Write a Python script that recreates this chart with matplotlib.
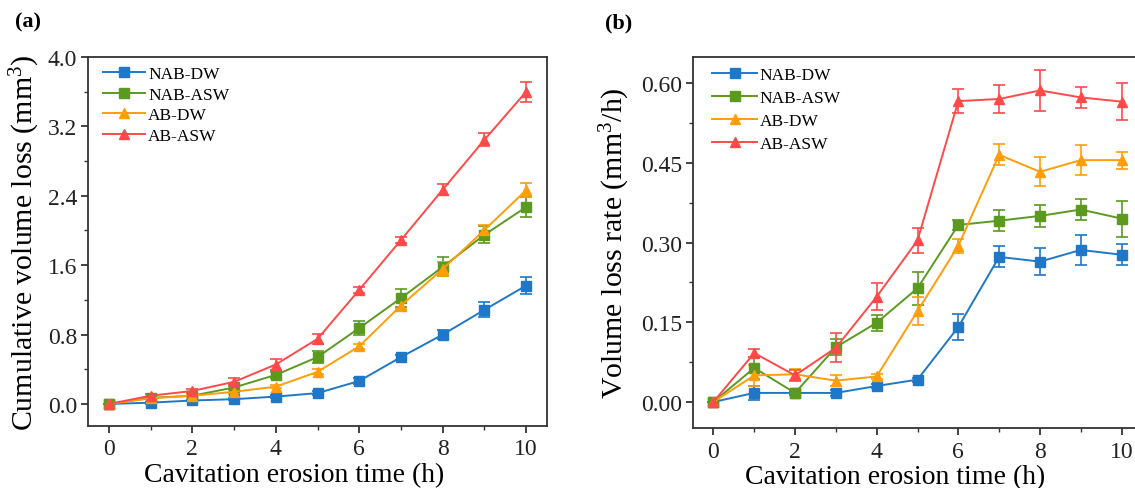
import matplotlib
matplotlib.use("Agg")
import matplotlib.pyplot as plt
from matplotlib.ticker import MultipleLocator, FormatStrFormatter
from matplotlib.lines import Line2D

plt.rcParams['font.family'] = ['Liberation Serif', 'DejaVu Serif']
plt.rcParams['mathtext.fontset'] = 'custom'
plt.rcParams['mathtext.rm'] = 'Liberation Serif'
plt.rcParams['mathtext.it'] = 'Liberation Serif:italic'

hours = [0, 1, 2, 3, 4, 5, 6, 7, 8, 9, 10]
series_names = ["NAB-DW", "NAB-ASW", "AB-DW", "AB-ASW"]
colors = ["#1f77c8", "#5b9a1f", "#ff9d0a", "#ff4a4a"]
markers = ["s", "s", "^", "^"]

# (a) Cumulative volume loss (mm^3)
cum_nab_dw = [0, 0.015, 0.04, 0.055, 0.085, 0.125, 0.265, 0.54, 0.80, 1.085, 1.365]
cum_nab_dw_err = [0, 0.01, 0.01, 0.01, 0.015, 0.02, 0.03, 0.03, 0.05, 0.085, 0.10]
cum_nab_asw = [0, 0.07, 0.095, 0.19, 0.335, 0.54, 0.875, 1.22, 1.58, 1.95, 2.27]
cum_nab_asw_err = [0, 0.01, 0.01, 0.02, 0.03, 0.07, 0.085, 0.10, 0.11, 0.10, 0.12]
cum_ab_dw = [0, 0.065, 0.095, 0.14, 0.20, 0.37, 0.665, 1.135, 1.555, 2.005, 2.465]
cum_ab_dw_err = [0, 0.01, 0.01, 0.02, 0.02, 0.03, 0.03, 0.04, 0.08, 0.06, 0.08]
cum_ab_asw = [0, 0.095, 0.15, 0.255, 0.455, 0.75, 1.315, 1.89, 2.47, 3.045, 3.60]
cum_ab_asw_err = [0, 0.02, 0.02, 0.04, 0.065, 0.06, 0.03, 0.03, 0.063, 0.076, 0.115]

# (b) Volume loss rate (mm^3/h)
rate_nab_dw = [0, 0.017, 0.017, 0.017, 0.030, 0.042, 0.141, 0.273, 0.264, 0.286, 0.277]
rate_nab_dw_err = [0, 0.0135, 0.004, 0.006, 0.004, 0.004, 0.024, 0.02, 0.026, 0.028, 0.02]
rate_nab_asw = [0, 0.064, 0.017, 0.103, 0.149, 0.214, 0.333, 0.341, 0.350, 0.362, 0.345]
rate_nab_asw_err = [0, 0.02, 0.004, 0.015, 0.015, 0.031, 0.01, 0.02, 0.02, 0.02, 0.034]
rate_ab_dw = [0, 0.050, 0.052, 0.040, 0.048, 0.171, 0.294, 0.465, 0.433, 0.455, 0.455]
rate_ab_dw_err = [0, 0.02, 0.01, 0.01, 0.005, 0.027, 0.013, 0.02, 0.027, 0.028, 0.016]
rate_ab_asw = [0, 0.092, 0.050, 0.102, 0.198, 0.304, 0.566, 0.570, 0.586, 0.573, 0.565]
rate_ab_asw_err = [0, 0.008, 0.01, 0.027, 0.025, 0.024, 0.023, 0.027, 0.038, 0.02, 0.035]

cum_data = [(cum_nab_dw, cum_nab_dw_err), (cum_nab_asw, cum_nab_asw_err),
            (cum_ab_dw, cum_ab_dw_err), (cum_ab_asw, cum_ab_asw_err)]
rate_data = [(rate_nab_dw, rate_nab_dw_err), (rate_nab_asw, rate_nab_asw_err),
             (rate_ab_dw, rate_ab_dw_err), (rate_ab_asw, rate_ab_asw_err)]

W, H = 1135, 489
fig = plt.figure(figsize=(W / 100, H / 100), dpi=100)

def px_axes(x0, x1, ytop, ybot):
    return fig.add_axes([x0 / W, 1 - ybot / H, (x1 - x0) / W, (ybot - ytop) / H])

axA = px_axes(88, 547, 58, 427)
axB = px_axes(693, 1142, 58, 429)

def msize(m):
    return 6.5 if m == "s" else 7.5

def draw(ax, data):
    for (vals, errs), name, c, m in zip(data, series_names, colors, markers):
        ax.errorbar(hours, vals, yerr=errs, color=c, marker=m,
                    markersize=msize(m), lw=1.4,
                    elinewidth=1.2, capsize=4, capthick=1.2)
    for s in ax.spines.values():
        s.set_linewidth(1.3)
        s.set_color("#333333")
    ax.tick_params(which="major", direction="out", length=5, width=1.2,
                   labelsize=17, colors="#222222")
    ax.tick_params(which="minor", direction="out", length=3, width=1.0, colors="#333333")
    ax.tick_params(axis="x", which="major", pad=4)
    ax.tick_params(axis="y", which="major", pad=3)
    ax.set_xlim(-0.5, 10.5)
    ax.xaxis.set_major_locator(MultipleLocator(2))
    ax.xaxis.set_minor_locator(MultipleLocator(1))
    ax.set_xlabel("Cavitation erosion time (h)", fontsize=20)

def handles():
    return [Line2D([], [], color=c, marker=m, markersize=msize(m), lw=1.4)
            for c, m in zip(colors, markers)]

draw(axA, cum_data)
axA.set_ylim(-0.254, 4.0)
axA.yaxis.set_major_locator(MultipleLocator(0.8))
axA.yaxis.set_minor_locator(MultipleLocator(0.4))
axA.yaxis.set_major_formatter(FormatStrFormatter("%.1f"))
axA.set_ylabel("Cumulative volume loss (mm$^3$)", fontsize=21.5)
axA.xaxis.set_label_coords(0.45, -0.098)
axA.yaxis.set_label_coords(-0.1, 0.5)

draw(axB, rate_data)
axB.set_ylim(-0.049, 0.649)
axB.yaxis.set_major_locator(MultipleLocator(0.15))
axB.yaxis.set_minor_locator(MultipleLocator(0.075))
axB.yaxis.set_major_formatter(FormatStrFormatter("%.2f"))
axB.set_ylabel("Volume loss rate (mm$^3$/h)", fontsize=21.5)
axB.xaxis.set_label_coords(0.45, -0.098)
axB.yaxis.set_label_coords(-0.135, 0.5)

axA.legend(handles(), series_names, loc="upper left", bbox_to_anchor=(103 / W, 1 - 67 / H),
           bbox_transform=fig.transFigure, frameon=False, fontsize=12.5,
           handlelength=2.4, handletextpad=0.2, labelspacing=0.25,
           borderpad=0, borderaxespad=0)
axB.legend(handles(), series_names, loc="upper left", bbox_to_anchor=(712 / W, 1 - 68 / H),
           bbox_transform=fig.transFigure, frameon=False, fontsize=12.5,
           handlelength=2.6, handletextpad=0.15, labelspacing=0.4,
           borderpad=0, borderaxespad=0)

fig.text(15 / W, 1 - 22 / H, "(a)", fontsize=16, fontweight="bold", va="center", ha="left")
fig.text(605 / W, 1 - 23 / H, "(b)", fontsize=16, fontweight="bold", va="center", ha="left")

fig.savefig("out.png", dpi=100)
